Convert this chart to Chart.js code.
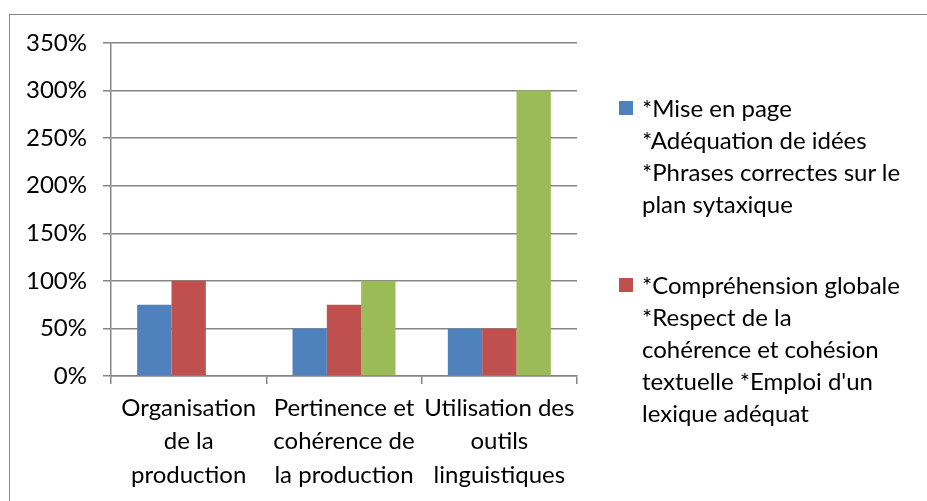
<!DOCTYPE html>
<html>
<head>
<meta charset="utf-8">
<script src="https://cdn.jsdelivr.net/npm/chart.js@4.4.1/dist/chart.umd.min.js"></script>
<style>
  html, body { margin: 0; padding: 0; background: #fff; overflow: hidden; }
  #wrap { position: relative; width: 927px; height: 501px; }
  #frame {
    position: absolute; left: 9px; top: 14px; width: 960px; height: 540px;
    border: 1.5px solid #868686; box-sizing: border-box;
  }
  #chart { position: absolute; left: 0; top: 0; }
  #legend {
    position: absolute; left: 619px; top: 92px;
    font-family: Lato, sans-serif; font-size: 24px; color: #000;
  }
  .item { position: relative; padding-left: 23px; margin-bottom: 49px; }
  .box { position: absolute; left: 0; top: 9px; width: 14px; height: 14px; }
  .line { height: 32px; line-height: 32px; white-space: nowrap; }
</style>
</head>
<body>
<div id="wrap">
  <div id="frame"></div>
  <canvas id="chart" width="927" height="501"></canvas>
  <div id="legend"></div>
</div>
<script>
// categories (multi-line labels as in the original)
const categories = [
  ["Organisation", "de la", "production"],
  ["Pertinence et", "cohérence de", "la production"],
  ["Utilisation des", "outils", "linguistiques"]
];

// series values (in %)
const miseEnPage = [75, 50, 50];
const comprehension = [100, 75, 50];
const troisieme = [0, 100, 300];

// legend text, one array per series
const labelMiseEnPage = ["*Mise en page", "*Adéquation de idées", "*Phrases correctes sur le", "plan sytaxique"];
const labelComprehension = ["*Compréhension globale", "*Respect de la", "cohérence et cohésion", "textuelle *Emploi d'un", "lexique adéquat"];

// y axis ticks
const yMin = 0;
const yMax = 350;
const yStep = 50;

const gridColor = "#868686";
const font = { family: "Lato, sans-serif", size: 24 };

var ctx = document.getElementById("chart").getContext("2d");
var myChart = new Chart(ctx, {
  type: "bar",
  data: {
    labels: categories,
    datasets: [
      {
        label: labelMiseEnPage.join(" "),
        lines: labelMiseEnPage,
        data: miseEnPage,
        backgroundColor: "#4F81BD",
      },
      {
        label: labelComprehension.join(" "),
        lines: labelComprehension,
        data: comprehension,
        backgroundColor: "#C0504D",
      },
      {
        label: "",
        lines: [],
        data: troisieme,
        backgroundColor: "#9BBB59",
      },
    ],
  },
  options: {
    responsive: false,
    animation: false,
    layout: { padding: { left: 0, top: 43, right: 350, bottom: 0 } },
    datasets: {
      bar: { categoryPercentage: 0.663, barPercentage: 1, borderWidth: 0 },
    },
    plugins: {
      legend: { display: false },
      tooltip: { enabled: false },
    },
    scales: {
      x: {
        offset: true,
        grid: { offset: true, drawOnChartArea: false, drawTicks: true, tickLength: 8, color: gridColor, lineWidth: 1.5 },
        border: { color: gridColor, width: 1.5 },
        ticks: {
          color: "#000",
          font: { family: font.family, size: font.size, lineHeight: 1.38 },
          padding: 8,
          maxRotation: 0,
          autoSkip: false,
        },
        afterFit: function (scale) { scale.height = 125; },
      },
      y: {
        min: yMin,
        max: yMax,
        ticks: {
          stepSize: yStep,
          color: "#000",
          font: font,
          padding: 16,
          callback: function (v) { return v + "%"; },
        },
        grid: { color: gridColor, lineWidth: 1.5, tickLength: 8 },
        border: { color: gridColor, width: 1.5 },
        afterFit: function (scale) { scale.width = 111; },
      },
    },
  },
});

// html legend: only the entries that have text, like the clipped Excel legend
var legend = document.getElementById("legend");
myChart.data.datasets.forEach(function (ds) {
  if (!ds.lines.length) return;
  var item = document.createElement("div");
  item.className = "item";
  var box = document.createElement("div");
  box.className = "box";
  box.style.background = ds.backgroundColor;
  item.appendChild(box);
  ds.lines.forEach(function (t) {
    var l = document.createElement("div");
    l.className = "line";
    l.textContent = t;
    item.appendChild(l);
  });
  legend.appendChild(item);
});
</script>
</body>
</html>
